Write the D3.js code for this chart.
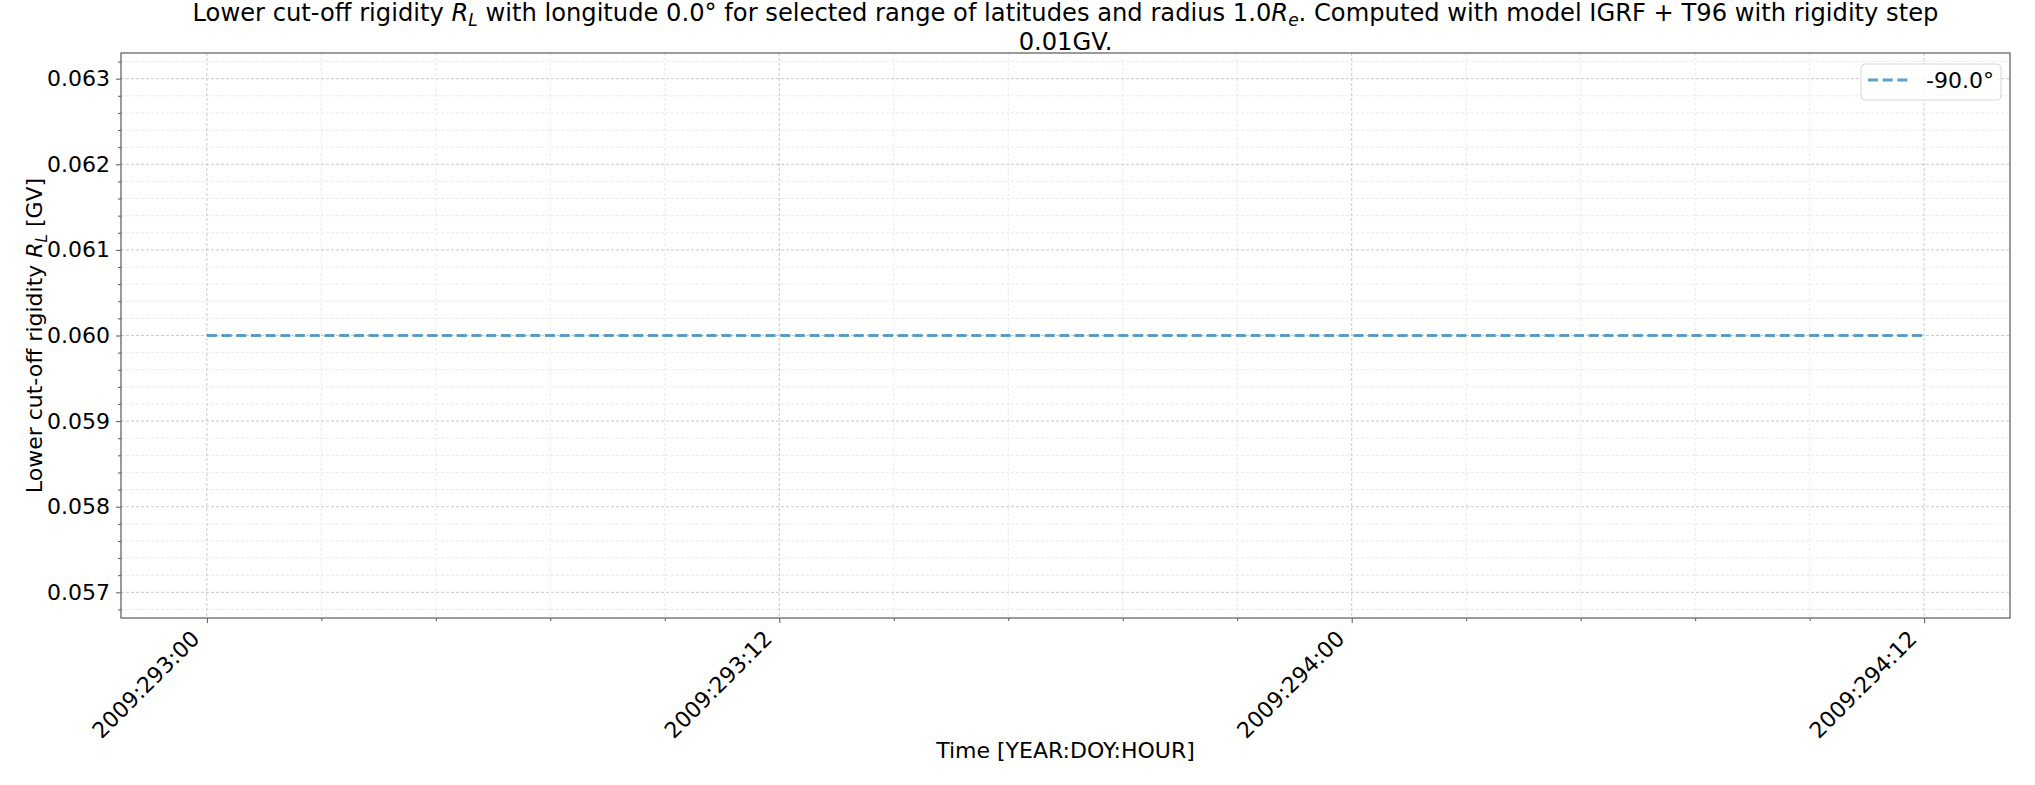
<!DOCTYPE html>
<html>
<head>
<meta charset="utf-8">
<script src="https://cdn.jsdelivr.net/npm/d3@7"></script>
<style>
  body { margin: 0; background: white; }
  text { font-family: "DejaVu Sans", sans-serif; fill: black; }
</style>
</head>
<body>
<div id="chart-area"></div>
<script>
/*
*    rigidity chart
*/

// Data
var startTime = "2009-10-20T00:00:00Z";   // 2009 DOY 293, 00h
var hours = [0, 1, 2, 3, 4, 5, 6, 7, 8, 9, 10, 11, 12, 13, 14, 15, 16, 17, 18,
             19, 20, 21, 22, 23, 24, 25, 26, 27, 28, 29, 30, 31, 32, 33, 34, 35, 36];
var rigidity = [0.06, 0.06, 0.06, 0.06, 0.06, 0.06, 0.06, 0.06, 0.06, 0.06, 0.06, 0.06, 0.06,
                0.06, 0.06, 0.06, 0.06, 0.06, 0.06, 0.06, 0.06, 0.06, 0.06, 0.06, 0.06, 0.06,
                0.06, 0.06, 0.06, 0.06, 0.06, 0.06, 0.06, 0.06, 0.06, 0.06, 0.06];
var seriesName = "-90.0°";
var yTicks = [0.057, 0.058, 0.059, 0.060, 0.061, 0.062, 0.063];
var yDomain = [0.0567, 0.0633];
var xTickHours = [0, 12, 24, 36];

var W = 2035, H = 785;
var margin = {top: 53, right: 25, bottom: 167, left: 121};
var width = W - margin.left - margin.right;
var height = H - margin.top - margin.bottom;

var svg = d3.select("#chart-area").append("svg").attr("width", W).attr("height", H);
var g = svg.append("g").attr("transform", "translate(" + margin.left + ", " + margin.top + ")");

var t0 = new Date(startTime);
var toDate = (h) => new Date(t0.getTime() + h * 3600 * 1000);
var data = hours.map((h, i) => ({time: toDate(h), value: rigidity[i]}));

// Scales (5% margin on time, like matplotlib)
var span = hours[hours.length - 1] - hours[0];
var x = d3.scaleUtc().domain([toDate(hours[0] - span * 0.05), toDate(hours[hours.length - 1] + span * 0.05)]).range([0, width]);
var y = d3.scaleLinear().domain(yDomain).range([height, 0]);

var fmt = d3.utcFormat("%Y:%j:%H");
var xMajor = xTickHours.map(toDate);
var xMinor = [];
for (var i = 0; i < xTickHours.length - 1; i++) {
  for (var k = 1; k < 5; k++) xMinor.push(toDate(xTickHours[i] + k * 2.4));
}
var yMinor = d3.range(566, 634, 2).map((v) => v / 10000)
  .filter((v) => v >= yDomain[0] && v <= yDomain[1] && yTicks.every((t) => Math.abs(t - v) > 1e-7));

// Grid
var grid = g.append("g").attr("class", "grid");
grid.selectAll(".minor-x").data(xMinor).enter().append("line")
  .attr("x1", (d) => x(d)).attr("x2", (d) => x(d)).attr("y1", 0).attr("y2", height)
  .attr("stroke", "#e4e4e4").attr("stroke-width", 0.8).attr("stroke-dasharray", "3,2");
grid.selectAll(".minor-y").data(yMinor).enter().append("line")
  .attr("y1", (d) => y(d)).attr("y2", (d) => y(d)).attr("x1", 0).attr("x2", width)
  .attr("stroke", "#e4e4e4").attr("stroke-width", 0.8).attr("stroke-dasharray", "3,2");
grid.selectAll(".major-x").data(xMajor).enter().append("line")
  .attr("x1", (d) => x(d)).attr("x2", (d) => x(d)).attr("y1", 0).attr("y2", height)
  .attr("stroke", "#bcbcbc").attr("stroke-width", 0.8).attr("stroke-dasharray", "3,2");
grid.selectAll(".major-y").data(yTicks).enter().append("line")
  .attr("y1", (d) => y(d)).attr("y2", (d) => y(d)).attr("x1", 0).attr("x2", width)
  .attr("stroke", "#bcbcbc").attr("stroke-width", 0.8).attr("stroke-dasharray", "3,2");

// Axis
var xAxisCall = d3.axisBottom(x).tickValues(xMajor).tickFormat(fmt).tickSize(5);
var xAxisGroup = g.append("g").attr("class", "x axis").attr("transform", "translate(0, " + height + ")").call(xAxisCall);
xAxisGroup.selectAll(".tick text").attr("font-size", "22px").attr("text-anchor", "end")
  .attr("x", 0).attr("y", 0).attr("dy", "0.36em")
  .attr("transform", "translate(-12,16.5) rotate(-45)")
  .style("fill", "black");

var xMinorAxis = g.append("g").attr("transform", "translate(0, " + height + ")")
  .call(d3.axisBottom(x).tickValues(xMinor).tickSize(3).tickFormat(""));
xMinorAxis.select(".domain").remove();

var yAxisCall = d3.axisLeft(y).tickValues(yTicks).tickFormat(d3.format(".3f")).tickSize(5).tickPadding(6);
var yAxisGroup = g.append("g").attr("class", "y axis").call(yAxisCall);
yAxisGroup.selectAll("text").attr("font-size", "22px").style("fill", "black");

var yMinorAxis = g.append("g").call(d3.axisLeft(y).tickValues(yMinor).tickSize(3).tickFormat(""));
yMinorAxis.select(".domain").remove();

g.selectAll(".tick line").attr("stroke", "#555");
xAxisGroup.select(".domain").remove();
yAxisGroup.select(".domain").remove();

// Frame
g.append("rect").attr("x", 0).attr("y", 0).attr("width", width).attr("height", height)
  .attr("fill", "none").attr("stroke", "#666").attr("stroke-width", 1.3);

// Line
var line = d3.line().x((d) => x(d.time)).y((d) => y(d.value));
g.append("path").datum(data).attr("d", line).attr("fill", "none")
  .attr("stroke", "#1f77b4").attr("stroke-opacity", 0.7).attr("stroke-width", 2.8)
  .attr("stroke-dasharray", "10,4.7");

// Labels
var title = svg.append("text").attr("x", margin.left + width / 2).attr("y", 21)
  .attr("text-anchor", "middle").attr("font-size", "24.2px");
title.append("tspan").text("Lower cut-off rigidity ");
title.append("tspan").attr("font-style", "italic").text("R");
title.append("tspan").attr("font-style", "italic").attr("font-size", "17px").attr("dy", 5).text("L");
title.append("tspan").attr("dy", -5).text(" with longitude 0.0° for selected range of latitudes and radius 1.0");
title.append("tspan").attr("font-style", "italic").text("R");
title.append("tspan").attr("font-style", "italic").attr("font-size", "17px").attr("dy", 5).text("e");
title.append("tspan").attr("dy", -5).text(". Computed with model IGRF + T96 with rigidity step");
svg.append("text").attr("x", margin.left + width / 2).attr("y", 50)
  .attr("text-anchor", "middle").attr("font-size", "24.2px").text("0.01GV.");

g.append("text").attr("x", width / 2).attr("y", height + 140).attr("font-size", "22px")
  .attr("text-anchor", "middle").text("Time [YEAR:DOY:HOUR]");

var yLabel = svg.append("text").attr("transform", "translate(42," + (margin.top + height / 2) + ") rotate(-90)")
  .attr("text-anchor", "middle").attr("font-size", "22px");
yLabel.append("tspan").text("Lower cut-off rigidity ");
yLabel.append("tspan").attr("font-style", "italic").text("R");
yLabel.append("tspan").attr("font-style", "italic").attr("font-size", "15px").attr("dy", 5).text("L");
yLabel.append("tspan").attr("dy", -5).text(" [GV]");

// Legend
var legend = svg.append("g").attr("transform", "translate(1861, 64)");
legend.append("rect").attr("width", 140).attr("height", 36).attr("rx", 4)
  .attr("fill", "white").attr("fill-opacity", 0.8).attr("stroke", "#d6d6d6");
legend.append("line").attr("x1", 7).attr("x2", 47).attr("y1", 16).attr("y2", 16)
  .attr("stroke", "#1f77b4").attr("stroke-opacity", 0.7).attr("stroke-width", 2.8)
  .attr("stroke-dasharray", "10,4.7");
legend.append("text").attr("x", 65).attr("y", 24).attr("font-size", "22px").text(seriesName);
</script>
</body>
</html>
